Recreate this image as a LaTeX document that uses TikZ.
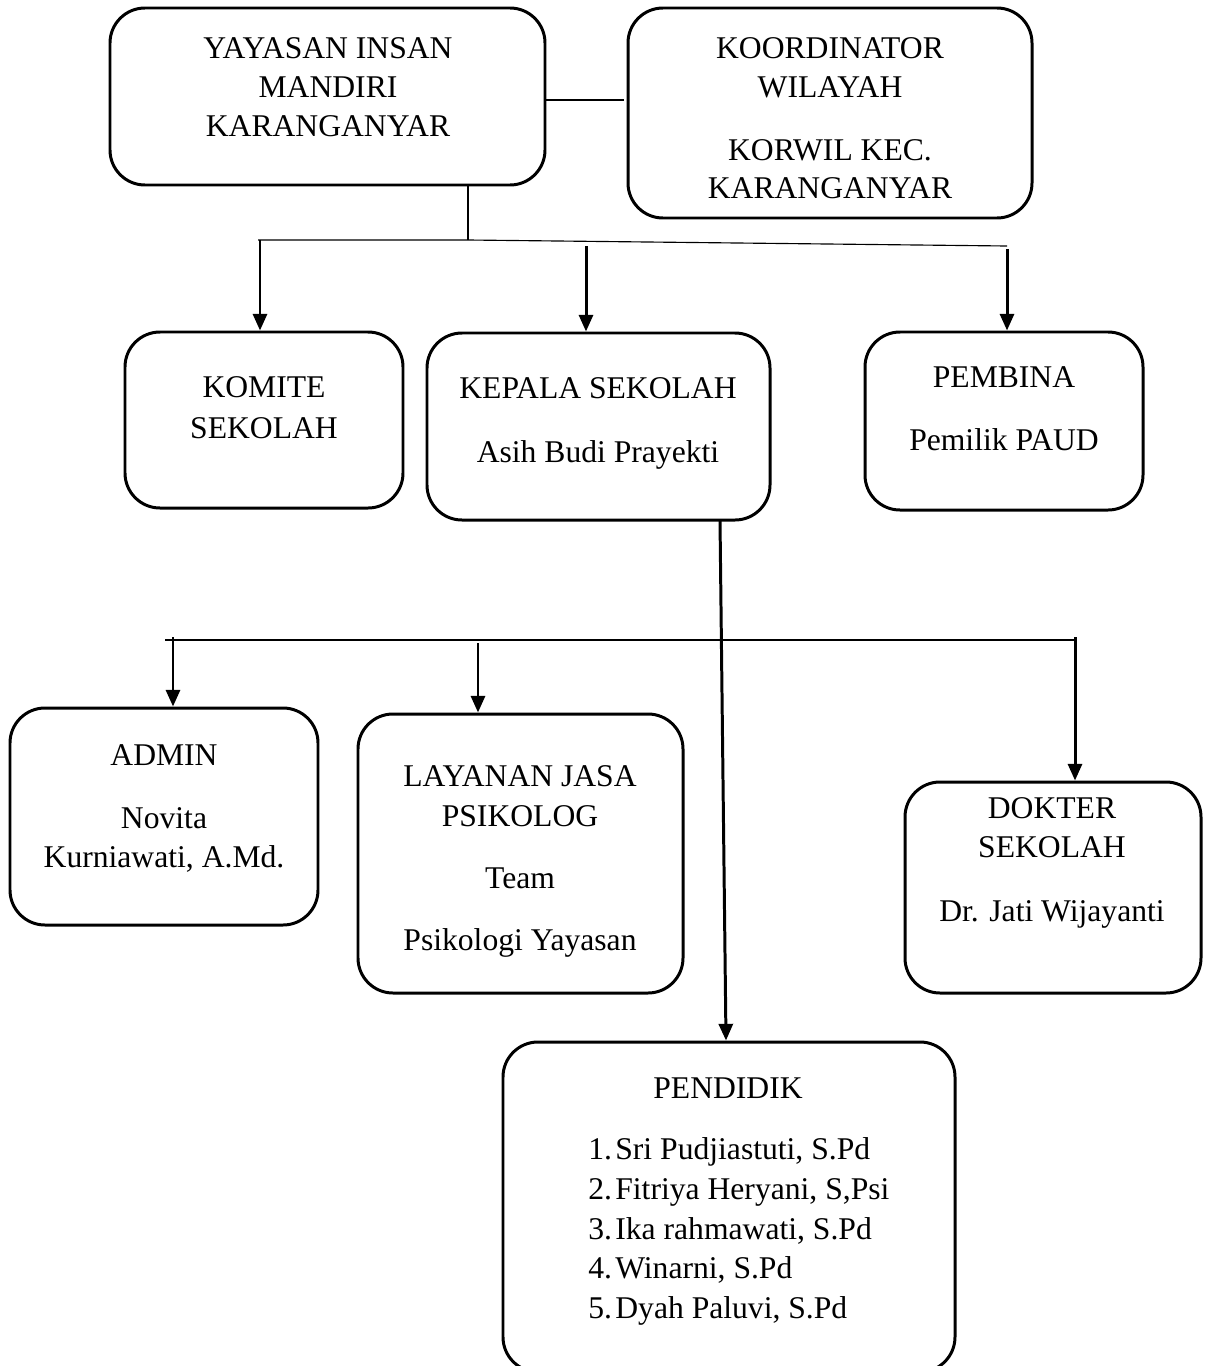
\documentclass[tikz,border=0pt]{standalone}
\usepackage{fontspec}
\setmainfont{Liberation Serif}
\usetikzlibrary{arrows.meta,fit}
\tikzset{
  box/.style={draw, line width=1.7pt, rounded corners=0.7cm, inner sep=0pt},
  txt/.style={font=\fontsize{18}{21.6}\selectfont, anchor=base, inner sep=0pt},
  ltxt/.style={font=\fontsize{18}{21.6}\selectfont, anchor=base west, inner sep=0pt},
  thinline/.style={line width=0.65pt},
  arr/.style={line width=1.7pt, -{Triangle[length=9.5pt,width=8pt]}}
}
\begin{document}
\begin{tikzpicture}[x=0.02cm,y=-0.02cm]
\path[use as bounding box, fill=white] (0,0) rectangle (1211,1366);
\clip (0,0) rectangle (1211,1366);
% boxes
\node[box, fit={(110,8)(545,185)}] (yay) {};
\node[box, fit={(628,8)(1032,218)}] (koor) {};
\node[box, fit={(125,332)(403,508)}] (kom) {};
\node[box, fit={(427,333)(770,520)}] (kep) {};
\node[box, fit={(865,332)(1143,510)}] (pem) {};
\node[box, fit={(10,708)(318,925)}] (adm) {};
\node[box, fit={(358,714)(683,993)}] (lay) {};
\node[box, fit={(905,782)(1201,993)}] (dok) {};
\node[box, fit={(503,1042)(955,1372)}] (pen) {};
% texts
\node[txt] (yay1) at (328,58) {YAYASAN INSAN};
\node[txt] (yay2) at (328,97) {MANDIRI};
\node[txt] (yay3) at (328,136) {KARANGANYAR};
\node[txt] (koor1) at (830,58) {KOORDINATOR};
\node[txt] (koor2) at (830,97) {WILAYAH};
\node[txt] (koor3) at (830,160) {KORWIL KEC.};
\node[txt] (koor4) at (830,198) {KARANGANYAR};
\node[txt] (kom1) at (264,397) {KOMITE};
\node[txt] (kom2) at (264,438) {SEKOLAH};
\node[txt] (kep1) at (598,398) {KEPALA SEKOLAH};
\node[txt] (kep2) at (598,462) {Asih Budi Prayekti};
\node[txt] (pem1) at (1004,387) {PEMBINA};
\node[txt] (pem2) at (1004,450) {Pemilik PAUD};
\node[txt] (adm1) at (164,765) {ADMIN};
\node[txt] (adm2) at (164,828) {Novita};
\node[txt] (adm3) at (164,867) {Kurniawati, A.Md.};
\node[txt] (lay1) at (520,786) {LAYANAN JASA};
\node[txt] (lay2) at (520,826) {PSIKOLOG};
\node[txt] (lay3) at (520,888) {Team};
\node[txt] (lay4) at (520,950) {Psikologi Yayasan};
\node[txt] (dok1) at (1052,818) {DOKTER};
\node[txt] (dok2) at (1052,857) {SEKOLAH};
\node[txt] (dok3) at (1052,921) {Dr. Jati Wijayanti};
\node[txt] (pen0) at (728,1098) {PENDIDIK};
\node[ltxt] (n1) at (588,1159) {1.};
\node[ltxt] (m1) at (615,1159) {Sri Pudjiastuti, S.Pd};
\node[ltxt] (n2) at (588,1199) {2.};
\node[ltxt] (m2) at (615,1199) {Fitriya Heryani, S,Psi};
\node[ltxt] (n3) at (588,1239) {3.};
\node[ltxt] (m3) at (615,1239) {Ika rahmawati, S.Pd};
\node[ltxt] (n4) at (588,1278) {4.};
\node[ltxt] (m4) at (615,1278) {Winarni, S.Pd};
\node[ltxt] (n5) at (588,1318) {5.};
\node[ltxt] (m5) at (615,1318) {Dyah Paluvi, S.Pd};
% junction coordinates
\coordinate (yk) at (546,100);
\coordinate (ke) at (624,100);
\coordinate (ys) at (468,185);
\coordinate (h0) at (258,240);
\coordinate (h1) at (468,240);
\coordinate (h2) at (1007,246);
\coordinate (a1) at (260,240);
\coordinate (a2) at (586,246);
\coordinate (a3) at (1007,249);
\coordinate (k1) at (720,520);
\coordinate (k2) at (726,1042);
\coordinate (l0) at (165,640);
\coordinate (l1) at (1075,640);
\coordinate (b1) at (173,637);
\coordinate (b2) at (478,643);
\coordinate (b3) at (1075,637);
% connectors
\draw[thinline] (yk) -- (ke);
\draw[thinline] (ys) -- (h1);
\draw[thinline] (h0) -- (h1) -- (h2);
\draw[arr] (a1) -- (a1 |- kom.north);
\draw[arr] (a2) -- (a2 |- kep.north);
\draw[arr] (a3) -- (a3 |- pem.north);
\draw[arr] (k1) -- (k2 |- pen.north);
\draw[thinline] (l0) -- (l1);
\draw[arr] (b1) -- (b1 |- adm.north);
\draw[arr] (b2) -- (b2 |- lay.north);
\draw[arr] (b3) -- (b3 |- dok.north);
\end{tikzpicture}
\end{document}
